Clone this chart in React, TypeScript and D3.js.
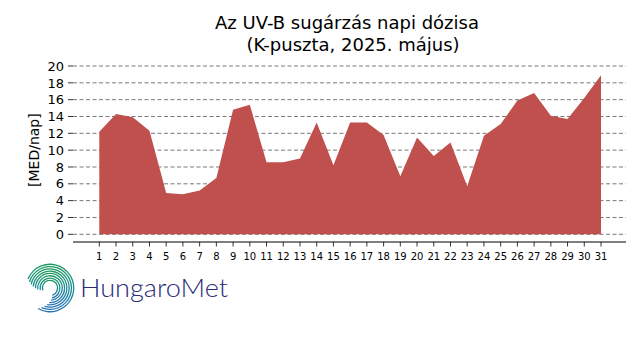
import React from "react";
import * as d3 from "d3";

const days = d3.range(1, 32);
const uvDose = [12.2, 14.3, 13.9, 12.3, 4.9, 4.75, 5.2, 6.7, 14.8, 15.4, 8.55, 8.55, 9.0, 13.3, 8.2, 13.3, 13.3, 11.8, 6.9, 11.5, 9.3, 10.9, 5.7, 11.7, 13.1, 15.9, 16.8, 14.1, 13.7, 16.2, 18.9];
const yTicks = [0, 2, 4, 6, 8, 10, 12, 14, 16, 18, 20];
const titleLines = ["Az UV-B sugárzás napi dózisa", "(K-puszta, 2025. május)"];
const yLabel = "[MED/nap]";

export default function App() {
  const x = d3.scaleLinear().domain([1, 31]).range([99.3, 601]);
  const y = d3.scaleLinear().domain([0, 20]).range([234.3, 66]);
  const area = d3
    .area<number>()
    .x((_, i) => x(days[i]))
    .y0(y(0))
    .y1((d) => y(d));
  const font = "'DejaVu Sans', sans-serif";
  const axL = 73;
  const axR = 626;
  const axY = 242;

  // logo spiral arcs
  const cx = 50, cy = 288;
  const arcs = d3.range(0, 8).map((i) => {
    const r = 7 + i * 2.3;
    const start = -Math.PI * 0.6 + i * 0.1;
    const end = Math.PI * 0.9 + i * 0.12;
    return d3.arc()({ innerRadius: r, outerRadius: r + 1.3, startAngle: start, endAngle: end }) as string;
  });

  return (
    <svg width={640} height={360} style={{ position: "absolute", left: 0, top: 0, background: "#fff" }}>
      <defs>
        <linearGradient id="lg" x1="0" y1="0" x2="0" y2="1">
          <stop offset="0" stopColor="#1f9a5e" />
          <stop offset="0.5" stopColor="#1a8f9a" />
          <stop offset="1" stopColor="#2a72b5" />
        </linearGradient>
      </defs>
      <text x={347} y={29} textAnchor="middle" fontFamily={font} fontSize={18} fill="#000">{titleLines[0]}</text>
      <text x={353} y={51} textAnchor="middle" fontFamily={font} fontSize={18} fill="#000">{titleLines[1]}</text>
      {yTicks.map((t) => (
        <g key={t}>
          <line x1={axL} x2={axR} y1={y(t)} y2={y(t)} stroke="#555" strokeWidth={0.8} strokeDasharray="4,2.5" />
          <line x1={68} x2={axL} y1={y(t)} y2={y(t)} stroke="#000" strokeWidth={0.8} />
          <text x={64} y={y(t)} dy="0.36em" textAnchor="end" fontFamily={font} fontSize={13}>{t}</text>
        </g>
      ))}
      <path d={area(uvDose) as string} fill="#c0504d" />
      <line x1={axL} x2={axR} y1={axY} y2={axY} stroke="#000" strokeWidth={1} />
      {days.map((d) => (
        <g key={d}>
          <line x1={x(d)} x2={x(d)} y1={axY} y2={axY + 4.5} stroke="#000" strokeWidth={0.8} />
          <text x={x(d)} y={256} dy="0.36em" textAnchor="middle" fontFamily={font} fontSize={10}>{d}</text>
        </g>
      ))}
      <text transform={`translate(39,${y(10)}) rotate(-90)`} textAnchor="middle" fontFamily={font} fontSize={14}>{yLabel}</text>
      <g transform={`translate(${cx},${cy})`}>
        {arcs.map((a, i) => (
          <path key={i} d={a} fill="url(#lg)" />
        ))}
      </g>
      <text x={80} y={297} fontFamily="Lato, Inter, sans-serif" fontWeight={300} fontSize={25} fill="#2a2a78" textLength={148} lengthAdjust="spacingAndGlyphs">HungaroMet</text>
    </svg>
  );
}
